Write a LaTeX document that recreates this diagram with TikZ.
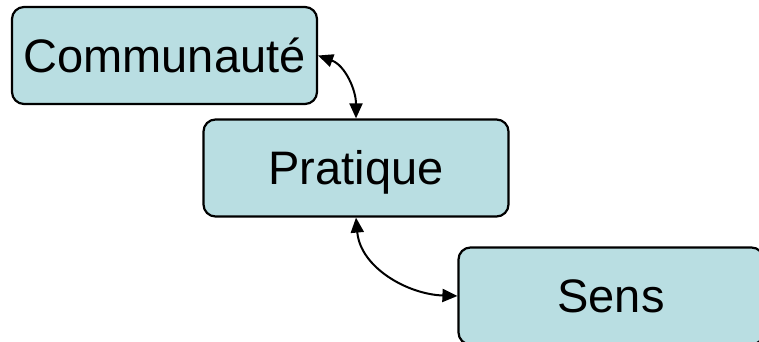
\documentclass[tikz,border=0pt]{standalone}
\usepackage{fontspec}
\setmainfont{Liberation Sans}
\usetikzlibrary{arrows.meta}
\definecolor{boxfill}{RGB}{185,222,226}
\begin{document}
\begin{tikzpicture}[x=1pt,y=-1pt,
    concept/.style ={rectangle, rounded corners=12pt, draw, line width=2.2pt, fill=boxfill,
      minimum width=305pt, minimum height=97pt, inner sep=0pt, text height=33.7pt, text depth=0pt,
      font=\fontsize{47}{50}\selectfont},
    link/.style ={line width=2pt, {Triangle[length=15pt,width=13pt]}-{Triangle[length=15pt,width=13pt]}}]
   \useasboundingbox (0,0) rectangle (759,342);
   \node[concept] (A) at (164.5,55.5) {Communauté};
   \node[concept] (B) at (356,168) {Pratique};
   \node[concept] (C) at (611,296) {Sens};
   \draw[link] (A.east) to[out=-20, in=90] (B.north);
   \draw[link] (B.south) to[out=-85, in=178] (C.west);
\end{tikzpicture}
\end{document}
